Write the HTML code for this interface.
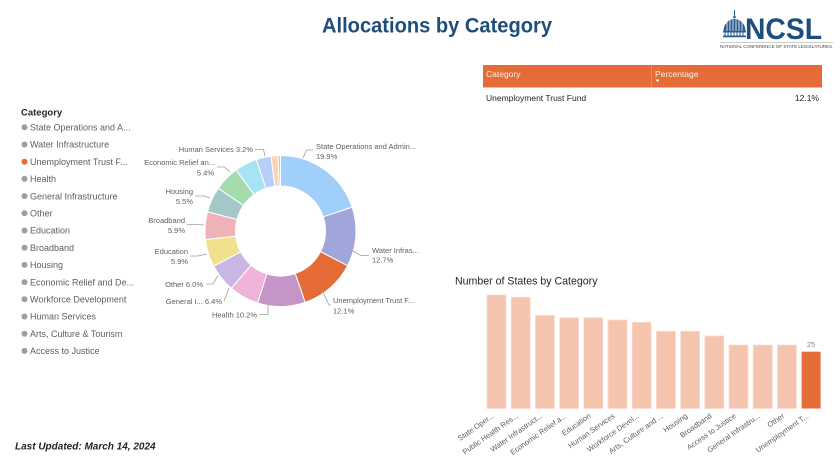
<!DOCTYPE html>
<html>
<head>
<meta charset="utf-8">
<style>
html,body{margin:0;padding:0;background:#ffffff;}
body{width:840px;height:457px;overflow:hidden;}
svg{display:block;font-family:"Liberation Sans",Arial,sans-serif;}
</style>
</head>
<body>
<svg width="840" height="457" viewBox="0 0 840 457" xmlns="http://www.w3.org/2000/svg">
  <rect x="0" y="0" width="840" height="457" fill="#ffffff"/>

  <!-- Title -->
  <text x="437" y="32.5" text-anchor="middle" font-size="21" font-weight="bold" fill="#1f4e79" textLength="230" lengthAdjust="spacingAndGlyphs">Allocations by Category</text>

  <!-- NCSL logo -->
  <g fill="#2b5c8e">
    <line x1="734.5" y1="10" x2="734.5" y2="18" stroke="#2b5c8e" stroke-width="1"/>
    <circle cx="734.5" cy="17" r="1.3"/>
    <path d="M723.5,31 A11,12 0 0 1 745.5,31 Z"/>
    <rect x="723" y="31" width="23" height="1.5"/>
    <rect x="723" y="35.5" width="23" height="1.8"/>
  </g>
  <g stroke="#ffffff" stroke-width="0.8">
    <line x1="727" y1="22" x2="727" y2="31"/>
    <line x1="730" y1="20" x2="730" y2="31"/>
    <line x1="733" y1="19.5" x2="733" y2="31"/>
    <line x1="736" y1="19.5" x2="736" y2="31"/>
    <line x1="739" y1="20" x2="739" y2="31"/>
    <line x1="742" y1="22" x2="742" y2="31"/>
  </g>
  <g stroke="#2b5c8e" stroke-width="1">
    <line x1="725" y1="32.5" x2="725" y2="35.5"/>
    <line x1="728" y1="32.5" x2="728" y2="35.5"/>
    <line x1="731" y1="32.5" x2="731" y2="35.5"/>
    <line x1="734" y1="32.5" x2="734" y2="35.5"/>
    <line x1="737" y1="32.5" x2="737" y2="35.5"/>
    <line x1="740" y1="32.5" x2="740" y2="35.5"/>
    <line x1="743" y1="32.5" x2="743" y2="35.5"/>
  </g>
  <text x="745" y="39" font-size="30" font-weight="bold" fill="#1e4e80" textLength="77" lengthAdjust="spacingAndGlyphs">NCSL</text>
  <line x1="720" y1="42.5" x2="833" y2="42.5" stroke="#9a9a9a" stroke-width="0.6"/>
  <text x="720" y="48" font-size="4.6" fill="#444444" textLength="112" lengthAdjust="spacingAndGlyphs">NATIONAL CONFERENCE OF STATE LEGISLATURES</text>

  <!-- Table -->
  <rect x="483" y="65" width="339" height="22" fill="#e66c37"/>
  <line x1="651.5" y1="65" x2="651.5" y2="87" stroke="#ee8a5e" stroke-width="1"/>
  <text x="486" y="77" font-size="8.5" fill="#fdeee6">Category</text>
  <text x="655" y="77" font-size="8.5" fill="#fdeee6">Percentage</text>
  <path d="M655.5,79.5 L659.5,79.5 L657.5,82 Z" fill="#ffffff"/>
  <line x1="483" y1="87.5" x2="822" y2="87.5" stroke="#c8c6c4" stroke-width="1"/>
  <text x="486" y="101" font-size="8.5" fill="#252423">Unemployment Trust Fund</text>
  <text x="819" y="101" font-size="8.5" fill="#252423" text-anchor="end">12.1%</text>

  <!-- Legend -->
  <text x="21" y="115.5" font-size="9.5" font-weight="bold" fill="#252423">Category</text>
  <g font-size="9" fill="#605e5c">
    <circle cx="24.5" cy="127.3" r="3" fill="#a19f9d"/><text x="30" y="130.5">State Operations and A...</text>
    <circle cx="24.5" cy="144.5" r="3" fill="#a19f9d"/><text x="30" y="147.7">Water Infrastructure</text>
    <circle cx="24.5" cy="161.7" r="3" fill="#e66c37"/><text x="30" y="164.9">Unemployment Trust F...</text>
    <circle cx="24.5" cy="178.9" r="3" fill="#a19f9d"/><text x="30" y="182.1">Health</text>
    <circle cx="24.5" cy="196.1" r="3" fill="#a19f9d"/><text x="30" y="199.3">General Infrastructure</text>
    <circle cx="24.5" cy="213.3" r="3" fill="#a19f9d"/><text x="30" y="216.5">Other</text>
    <circle cx="24.5" cy="230.5" r="3" fill="#a19f9d"/><text x="30" y="233.7">Education</text>
    <circle cx="24.5" cy="247.7" r="3" fill="#a19f9d"/><text x="30" y="250.9">Broadband</text>
    <circle cx="24.5" cy="264.9" r="3" fill="#a19f9d"/><text x="30" y="268.1">Housing</text>
    <circle cx="24.5" cy="282.1" r="3" fill="#a19f9d"/><text x="30" y="285.3">Economic Relief and De...</text>
    <circle cx="24.5" cy="299.3" r="3" fill="#a19f9d"/><text x="30" y="302.5">Workforce Development</text>
    <circle cx="24.5" cy="316.5" r="3" fill="#a19f9d"/><text x="30" y="319.7">Human Services</text>
    <circle cx="24.5" cy="333.7" r="3" fill="#a19f9d"/><text x="30" y="336.9">Arts, Culture &amp; Tourism</text>
    <circle cx="24.5" cy="350.9" r="3" fill="#a19f9d"/><text x="30" y="354.1">Access to Justice</text>
  </g>

  <!-- Donut -->
  <g stroke="#ffffff" stroke-width="1">
    <path fill="#a0cffa" d="M280.5,155.5 A75.5,75.5 0 0 1 352.16,207.22 L323.21,216.82 A45,45 0 0 0 280.5,186 Z"/>
    <path fill="#a1a6da" d="M352.16,207.22 A75.5,75.5 0 0 1 347.56,265.70 L320.47,251.68 A45,45 0 0 0 323.21,216.82 Z"/>
    <path fill="#e66c37" d="M347.56,265.70 A75.5,75.5 0 0 1 305.18,302.36 L295.21,273.53 A45,45 0 0 0 320.47,251.68 Z"/>
    <path fill="#c595c8" d="M305.18,302.36 A75.5,75.5 0 0 1 257.62,302.95 L266.86,273.89 A45,45 0 0 0 295.21,273.53 Z"/>
    <path fill="#f0b3da" d="M257.62,302.95 A75.5,75.5 0 0 1 231.28,288.25 L251.16,265.12 A45,45 0 0 0 266.86,273.89 Z"/>
    <path fill="#c9b6e4" d="M231.28,288.25 A75.5,75.5 0 0 1 213.67,266.12 L240.67,251.93 A45,45 0 0 0 251.16,265.12 Z"/>
    <path fill="#f1e08e" d="M213.67,266.12 A75.5,75.5 0 0 1 205.48,239.52 L235.79,236.08 A45,45 0 0 0 240.67,251.93 Z"/>
    <path fill="#eeb3b8" d="M205.48,239.52 A75.5,75.5 0 0 1 207.49,211.76 L236.98,219.53 A45,45 0 0 0 235.79,236.08 Z"/>
    <path fill="#a4c8c8" d="M207.49,211.76 A75.5,75.5 0 0 1 218.32,188.17 L243.44,205.47 A45,45 0 0 0 236.98,219.53 Z"/>
    <path fill="#a4dcb0" d="M218.32,188.17 A75.5,75.5 0 0 1 236.12,169.92 L254.05,194.59 A45,45 0 0 0 243.44,205.47 Z"/>
    <path fill="#a6e3f5" d="M236.12,169.92 A75.5,75.5 0 0 1 256.26,159.49 L266.05,188.38 A45,45 0 0 0 254.05,194.59 Z"/>
    <path fill="#b6cef8" d="M256.26,159.49 A75.5,75.5 0 0 1 271.04,156.10 L274.86,186.36 A45,45 0 0 0 266.05,188.38 Z"/>
    <path fill="#fbd5b3" d="M271.04,156.10 A75.5,75.5 0 0 1 278.13,155.54 L279.09,186.02 A45,45 0 0 0 274.86,186.36 Z"/>
    <path fill="#f0b3da" d="M278.13,155.54 A75.5,75.5 0 0 1 280.5,155.5 L280.5,186 A45,45 0 0 0 279.09,186.02 Z"/>
  </g>

  <!-- Leader lines -->
  <g fill="none" stroke="#a19f9d" stroke-width="0.8">
    <polyline points="303,158 306.5,150 313,150"/>
    <polyline points="353,251 361,255.5 369,255.5"/>
    <polyline points="322,290 329,305 331,305"/>
    <polyline points="268,305 268,314.5 259,314.5"/>
    <polyline points="229,288 224,301 224,301"/>
    <polyline points="218,275.5 213,284 206,284"/>
    <polyline points="207,254 198,256 190,256"/>
    <polyline points="204,225 196,224.5 187,224.5"/>
    <polyline points="210,198 204,196 195,196"/>
    <polyline points="230,172 224,167 217,167"/>
    <polyline points="265,156 263.5,149.5 255,149.5"/>
  </g>

  <!-- Donut labels -->
  <g font-size="7.5" fill="#605e5c">
    <text x="316" y="148.8">State Operations and Admin...</text>
    <text x="316" y="159">19.9%</text>
    <text x="372" y="253">Water Infras...</text>
    <text x="372" y="262.5">12.7%</text>
    <text x="333" y="303">Unemployment Trust F...</text>
    <text x="333" y="313.5">12.1%</text>
    <g text-anchor="end">
      <text x="257" y="317.5">Health 10.2%</text>
      <text x="222" y="304">General I... 6.4%</text>
      <text x="203" y="287">Other 6.0%</text>
      <text x="188" y="254">Education</text>
      <text x="188" y="264">5.9%</text>
      <text x="185" y="223">Broadband</text>
      <text x="185" y="233">5.9%</text>
      <text x="193" y="194">Housing</text>
      <text x="193" y="204">5.5%</text>
      <text x="215" y="165">Economic Relief an...</text>
      <text x="214" y="175.5">5.4%</text>
      <text x="253" y="152">Human Services 3.2%</text>
    </g>
  </g>

  <!-- Bar chart -->
  <text x="455" y="284.5" font-size="10.6" fill="#252423">Number of States by Category</text>
  <g fill="#f4c4ae" stroke="#f9ddd0" stroke-width="0.8">
    <rect x="487.0" y="295.0" width="19" height="113.5"/>
    <rect x="511.2" y="297.3" width="19" height="111.2"/>
    <rect x="535.4" y="315.3" width="19" height="93.2"/>
    <rect x="559.6" y="317.7" width="19" height="90.8"/>
    <rect x="583.8" y="317.7" width="19" height="90.8"/>
    <rect x="608.0" y="320.0" width="19" height="88.5"/>
    <rect x="632.2" y="322.3" width="19" height="86.2"/>
    <rect x="656.4" y="331.3" width="19" height="77.2"/>
    <rect x="680.6" y="331.3" width="19" height="77.2"/>
    <rect x="704.8" y="336.0" width="19" height="72.5"/>
    <rect x="729.0" y="345.0" width="19" height="63.5"/>
    <rect x="753.2" y="345.0" width="19" height="63.5"/>
    <rect x="777.4" y="345.0" width="19" height="63.5"/>
  </g>
  <rect x="801.6" y="351.7" width="19" height="56.8" fill="#e46c37"/>
  <text x="811" y="347" font-size="7.5" fill="#8a8886" text-anchor="middle">25</text>

  <g font-size="7.5" fill="#605e5c" text-anchor="end">
    <text transform="translate(494.5,417) rotate(-35)">State Oper...</text>
    <text transform="translate(518.7,417) rotate(-35)">Public Health Res...</text>
    <text transform="translate(542.9,417) rotate(-35)">Water Infrastruct...</text>
    <text transform="translate(567.1,417) rotate(-35)">Economic Relief a...</text>
    <text transform="translate(591.3,417) rotate(-35)">Education</text>
    <text transform="translate(615.5,417) rotate(-35)">Human Services</text>
    <text transform="translate(639.7,417) rotate(-35)">Workforce Devel...</text>
    <text transform="translate(663.9,417) rotate(-35)">Arts, Culture and ...</text>
    <text transform="translate(688.1,417) rotate(-35)">Housing</text>
    <text transform="translate(712.3,417) rotate(-35)">Broadband</text>
    <text transform="translate(736.5,417) rotate(-35)">Access to Justice</text>
    <text transform="translate(760.7,417) rotate(-35)">General Infrastru...</text>
    <text transform="translate(784.9,417) rotate(-35)">Other</text>
    <text transform="translate(809.1,417) rotate(-35)">Unemployment T...</text>
  </g>

  <!-- Footer -->
  <text x="15" y="449.5" font-size="10" font-weight="bold" font-style="italic" fill="#252423">Last Updated: March 14, 2024</text>
</svg>
</body>
</html>
